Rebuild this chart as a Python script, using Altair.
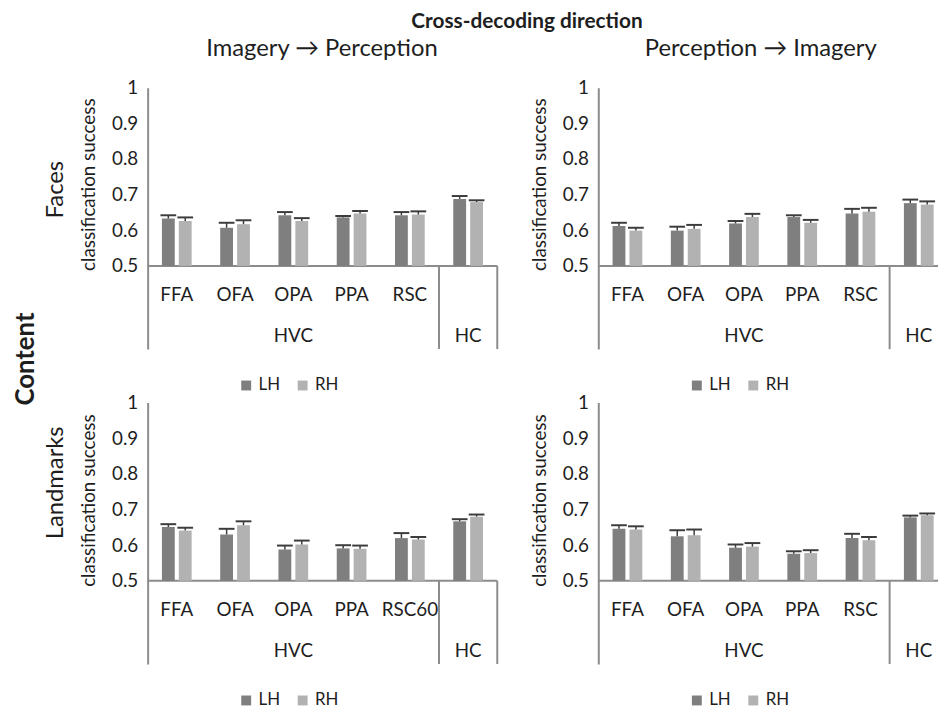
import altair as alt
import pandas as pd

# ---------------- data ----------------
regions = ["FFA", "OFA", "OPA", "PPA", "RSC", "HC"]
regions_landmarks_ip = ["FFA", "OFA", "OPA", "PPA", "RSC60", "HC"]
group_labels = ["HVC", "HC"]
hemispheres = ["LH", "RH"]
y_ticks = [0.5, 0.6, 0.7, 0.8, 0.9, 1.0]

# Faces, Imagery -> Perception
faces_ip_lh = [0.633, 0.607, 0.642, 0.636, 0.642, 0.688]
faces_ip_lh_err = [0.009, 0.014, 0.009, 0.004, 0.009, 0.008]
faces_ip_rh = [0.626, 0.617, 0.626, 0.647, 0.644, 0.679]
faces_ip_rh_err = [0.010, 0.011, 0.008, 0.007, 0.009, 0.005]

# Faces, Perception -> Imagery
faces_pi_lh = [0.612, 0.599, 0.619, 0.637, 0.647, 0.676]
faces_pi_lh_err = [0.009, 0.011, 0.007, 0.005, 0.013, 0.010]
faces_pi_rh = [0.599, 0.604, 0.637, 0.621, 0.652, 0.672]
faces_pi_rh_err = [0.008, 0.011, 0.009, 0.008, 0.011, 0.009]

# Landmarks, Imagery -> Perception
land_ip_lh = [0.651, 0.630, 0.588, 0.591, 0.620, 0.667]
land_ip_lh_err = [0.008, 0.016, 0.011, 0.009, 0.014, 0.006]
land_ip_rh = [0.641, 0.656, 0.602, 0.590, 0.616, 0.680]
land_ip_rh_err = [0.008, 0.011, 0.011, 0.009, 0.007, 0.006]

# Landmarks, Perception -> Imagery
land_pi_lh = [0.646, 0.625, 0.593, 0.576, 0.620, 0.678]
land_pi_lh_err = [0.010, 0.017, 0.009, 0.007, 0.012, 0.005]
land_pi_rh = [0.644, 0.628, 0.596, 0.578, 0.614, 0.684]
land_pi_rh_err = [0.009, 0.016, 0.010, 0.008, 0.009, 0.005]

# ---------------- styling ----------------
FONT = "Lato"
TXT = "#1e1e1e"
AXIS_GREY = "#8c8c8c"
ERR = "#3c3c3c"
LH_COL = "#7f7f7f"
RH_COL = "#b2b2b2"
Y_MIN = 0.5 - 84 / 360.0
BAND_PX = 58.83
H = 264
N_HVC = 5  # regions that belong to the HVC group (the HC band has no own tick label)


def note(text, x, y, size, angle=0, bold=False):
    """A free text annotation placed in pixels relative to the panel."""
    kw = dict(fontSize=size, color=TXT, font=FONT,
              fontWeight="bold" if bold else "normal")
    if angle:
        kw["angle"] = angle
    return alt.Chart(pd.DataFrame({"label": [text]})).mark_text(**kw).encode(
        x=alt.value(x), y=alt.value(y), text="label:N")


def panel(labels, lh, lh_err, rh, rh_err, xmax, right_border, notes):
    rows = []
    for i, lab in enumerate(labels):
        for h, vals, errs, off in (("LH", lh, lh_err, 0.245), ("RH", rh, rh_err, 0.535)):
            x0 = i + off
            xc = x0 + 0.11
            rows.append(dict(region=lab, hemi=h, x0=x0, x1=x0 + 0.22, xc=xc,
                             capl=xc - 0.135, capr=xc + 0.135,
                             value=vals[i], cap=vals[i] + errs[i], base=0.5))
    df = pd.DataFrame(rows)

    xs = alt.Scale(domain=[0, xmax], nice=False, zero=False)
    ys = alt.Scale(domain=[Y_MIN, 1.0], nice=False, zero=False)

    yaxis = alt.Axis(values=y_ticks,
                     labelExpr="datum.value > 0.999 ? '1' : format(datum.value, '.1f')",
                     ticks=False, grid=False, domainColor=AXIS_GREY, domainWidth=2,
                     labelFontSize=19, labelColor=TXT, labelPadding=10, title=None)

    legend = alt.Legend(orient="none", legendX=91, legendY=292, direction="horizontal",
                        title=None, symbolType="square", symbolSize=100,
                        symbolStrokeWidth=0, labelFontSize=17, labelColor=TXT,
                        columnPadding=14, labelOffset=4)

    bars = alt.Chart(df).mark_bar().encode(
        x=alt.X("x0:Q", scale=xs, axis=None),
        x2="x1:Q",
        y=alt.Y("value:Q", scale=ys, axis=yaxis),
        y2="base:Q",
        color=alt.Color("hemi:N", scale=alt.Scale(domain=hemispheres, range=[LH_COL, RH_COL]),
                        legend=legend),
    )
    stems = alt.Chart(df).mark_rule(color=ERR, strokeWidth=1.5).encode(
        x=alt.X("xc:Q", scale=xs, axis=None), y=alt.Y("value:Q", scale=ys, axis=yaxis), y2="cap:Q")
    caps = alt.Chart(df).mark_rule(color=ERR, strokeWidth=2).encode(
        x=alt.X("capl:Q", scale=xs, axis=None), x2="capr:Q",
        y=alt.Y("cap:Q", scale=ys, axis=yaxis))

    base_df = pd.DataFrame({"a": [0], "b": [xmax], "y": [0.5]})
    baseline = alt.Chart(base_df).mark_rule(color=AXIS_GREY, strokeWidth=2).encode(
        x=alt.X("a:Q", scale=xs, axis=None), x2="b:Q", y=alt.Y("y:Q", scale=ys, axis=yaxis))

    div_x = [5, 6] if right_border else [5]
    div_df = pd.DataFrame({"x": div_x, "y0": [Y_MIN] * len(div_x), "y1": [0.5] * len(div_x)})
    dividers = alt.Chart(div_df).mark_rule(color=AXIS_GREY, strokeWidth=2).encode(
        x=alt.X("x:Q", scale=xs, axis=None), y=alt.Y("y0:Q", scale=ys, axis=yaxis), y2="y1:Q")

    sub = labels[:N_HVC]
    lab_df = pd.DataFrame({"x": [i + 0.5 for i in range(len(sub))], "label": sub,
                           "y": [0.5 - 29 / 360.0] * len(sub)})
    region_text = alt.Chart(lab_df).mark_text(fontSize=19, color=TXT, font=FONT).encode(
        x=alt.X("x:Q", scale=xs, axis=None), y=alt.Y("y:Q", scale=ys, axis=yaxis),
        text="label:N")

    grp_df = pd.DataFrame({"x": [N_HVC / 2.0, N_HVC + 0.5], "label": group_labels,
                           "y": [0.5 - 71 / 360.0] * 2})
    group_text = alt.Chart(grp_df).mark_text(fontSize=19, color=TXT, font=FONT).encode(
        x=alt.X("x:Q", scale=xs, axis=None), y=alt.Y("y:Q", scale=ys, axis=yaxis),
        text="label:N")

    layers = [baseline, dividers, bars, stems, caps, region_text, group_text] + notes
    return alt.layer(*layers).properties(width=round(BAND_PX * xmax), height=H)


XMAX_RIGHT = 343 / BAND_PX
AX_TITLE = "classification success"

tl = panel(regions, faces_ip_lh, faces_ip_lh_err, faces_ip_rh, faces_ip_rh_err, 6, True, [
    note(AX_TITLE, -59, 98, 19, angle=270),
    note("Faces", -92, 103, 24, angle=270),
    note("Content", -123, 274, 26, angle=270, bold=True),
    note("Imagery \u2192 Perception", 176, -39, 24),
    note("Cross-decoding direction", 383, -66, 21, bold=True),
])
tr = panel(regions, faces_pi_lh, faces_pi_lh_err, faces_pi_rh, faces_pi_rh_err, XMAX_RIGHT, False, [
    note(AX_TITLE, -59, 98, 19, angle=270),
    note("Perception \u2192 Imagery", 164, -39, 24),
])
bl = panel(regions_landmarks_ip, land_ip_lh, land_ip_lh_err, land_ip_rh, land_ip_rh_err, 6, True, [
    note(AX_TITLE, -59, 99, 19, angle=270),
    note("Landmarks", -92, 81, 24, angle=270),
])
br = panel(regions, land_pi_lh, land_pi_lh_err, land_pi_rh, land_pi_rh_err, XMAX_RIGHT, False, [
    note(AX_TITLE, -59, 99, 19, angle=270),
])

chart = alt.concat(tl, tr, bl, br, columns=2,
                   spacing={"row": 54, "column": 102}, bounds="flush").resolve_scale(
    color="independent"
).properties(
    padding={"left": 5, "top": 0, "right": 0, "bottom": 0},
).configure(font=FONT).configure_view(strokeWidth=0).configure_axis(
    labelFont=FONT).configure_legend(labelFont=FONT)

chart.save("out.html", embed_options={"renderer": "svg", "actions": False})
